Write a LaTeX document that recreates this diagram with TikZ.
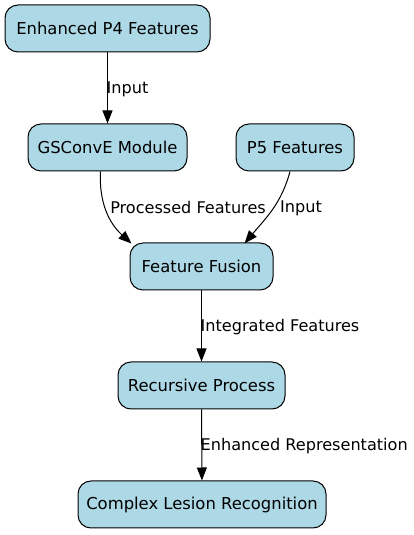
\documentclass[tikz,border=0pt]{standalone}
\usepackage{fontspec}
\setmainfont{DejaVu Sans}
\usepackage{tikz}
\usetikzlibrary{positioning,calc,arrows.meta}
\definecolor{boxfill}{HTML}{ADD8E6}

\begin{document}
\begin{tikzpicture}[x=1pt, y=1pt,
  block/.style={draw=black, fill=boxfill, rounded corners=13pt, minimum height=47pt,
    line width=1pt, inner sep=0pt, font=\fontsize{16.4}{19}\selectfont},
  flow/.style={-{Triangle[length=13pt,width=10pt]}, black, line width=1pt},
  lbl/.style={font=\fontsize{16.1}{19}\selectfont, inner sep=1pt}]
  \useasboundingbox (0,0) rectangle (414,535);

  \node[block, minimum width=205pt] (p4) at (107.5, 506.5) {Enhanced P4 Features};
  \node[block, minimum width=159pt] (gsconv) at (107.5, 387.5) {GSConvE Module};
  \node[block, minimum width=118pt] (p5) at (295, 387.5) {P5 Features};
  \node[block, minimum width=143pt] (fusion) at (201.5, 268.5) {Feature Fusion};
  \node[block, minimum width=167pt] (recur) at (201.5, 149.5) {Recursive Process};
  \node[block, minimum width=248pt] (lesion) at (202, 30.5) {Complex Lesion Recognition};

  % Straight edges
  \draw[flow] (p4) -- (gsconv);
  \node[lbl, anchor=west] (l1) at (105.5, 446) {Input};
  \draw[flow] (fusion) -- (recur);
  \node[lbl, anchor=west] (l4) at (199.5, 208) {Integrated Features};
  \draw[flow] (recur) -- (lesion);
  \node[lbl, anchor=west] (l5) at (199.5, 89) {Enhanced Representation};

  % Curved edges into the fusion block
  \draw[flow] ($(gsconv.south)+(-7,0)$) to[out=-93, in=138] ($(fusion.north west)+(2,-1)$);
  \node[lbl, anchor=east] (l2) at (267, 327) {Processed Features};
  \draw[flow] ($(p5.south)+(-5,0)$) to[out=-105, in=50] ($(fusion.north east)+(-29,-1)$);
  \node[lbl, anchor=west] (l3) at (279, 327) {Input};
\end{tikzpicture}
\end{document}
